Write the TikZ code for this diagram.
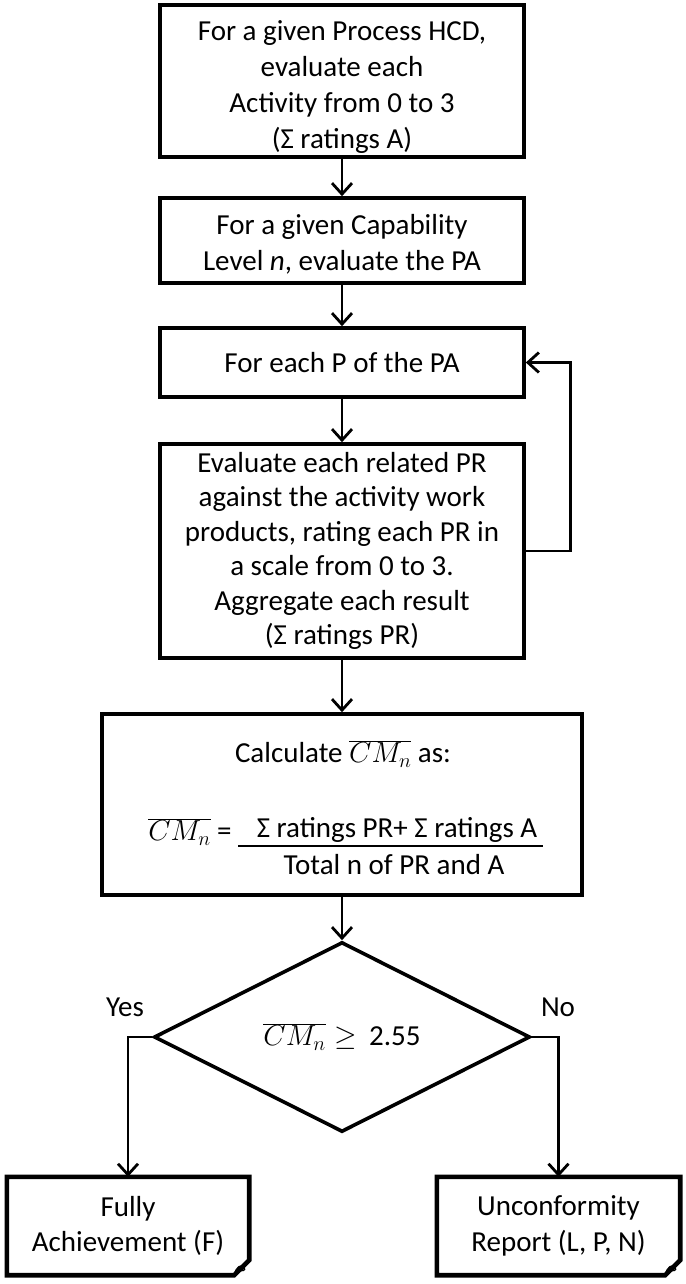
\RequirePackage{fix-cm}
\documentclass[tikz,border=0pt]{standalone}
\usepackage{fontspec}
\setmainfont{Carlito}
\usetikzlibrary{shapes.geometric,arrows.meta,calc}
\begin{document}
\begin{tikzpicture}[x=1pt,y=-1pt,
  txt/.style={font=\fontsize{29}{35.5}\selectfont, align=center, inner sep=0pt},
  box/.style={txt, draw, line width=3.6pt, minimum width=364pt},
  conn/.style={line width=2.8pt, -{Straight Barb[length=11pt,width=20pt,line width=2.8pt]}},
  docline/.style={line width=4.6pt, line join=miter},
  decision/.style={txt, draw, diamond, line width=3.6pt, minimum width=376pt, minimum height=190pt}
]
\useasboundingbox (0,0) rectangle (685,1284);

\node[box, minimum height=152pt, font=\fontsize{29}{36}\selectfont] (b1) at (342,81)
  {\rule{0pt}{32pt}For a given Process HCD,\\ evaluate each\\ Activity from 0 to 3\\ (Σ ratings A)};
\node[box, minimum height=85pt] (b2) at (342,240.5)
  {\rule{0pt}{28pt}For a given Capability\\ Level \textit{n}, evaluate the PA};
\node[box, minimum height=69pt] (b3) at (342,362.5)
  {For each P of the PA};
\node[box, minimum height=214pt, font=\fontsize{29}{34.5}\selectfont] (b4) at (342,551)
  {Evaluate each related PR\\ against the activity work\\ products, rating each PR in\\ a scale from 0 to 3.\\ Aggregate each result\\ (Σ ratings PR)};
\node[box, minimum width=480pt, minimum height=181pt] (b5) at (342,804.5) {};
\node[txt] (calc) at (343,754) {Calculate $\overline{CM_n}$ as:};
\node[txt] (lhs) at (190,832) {$\overline{CM_n}$ =};
\node[txt] (num) at (397,830) {Σ ratings PR+ Σ ratings A};
\node[txt] (den) at (394,865) {Total n of PR and A};
\coordinate (fracL) at (238,846);
\coordinate (fracR) at (543,846);
\draw[line width=2pt] (fracL) -- (fracR);

\node[decision] (dec) at (342,1037) {$\overline{CM_n}$\hspace{9pt}$\geq$\hspace{12pt}2.55};

\node[txt, minimum width=242pt, minimum height=98pt] (f) at (128,1226) {Fully\\ Achievement (F)};
\node[txt, minimum width=243pt, minimum height=98pt] (u) at (558.5,1226) {Unconformity\\ Report (L, P, N)};

\foreach \n in {f,u}{
  \draw[docline] (\n.north west) -- (\n.north east) -- ($(\n.south east)+(0,-15)$)
     -- ($(\n.south east)+(-15,0)$) -- (\n.south west) -- cycle;
  \draw[line width=1.4pt] ($(\n.south east)+(-15,0)$) .. controls ($(\n.south east)+(-13,-9)$) and ($(\n.south east)+(-8,-11)$) .. ($(\n.south east)+(-5,-8)$)
     .. controls ($(\n.south east)+(-3,-5)$) and ($(\n.south east)+(-8,-3)$) .. ($(\n.south east)+(-9,-6)$);
}

\node[txt] (yes) at (125,1007) {Yes};
\node[txt] (no) at (558,1007) {No};

\draw[conn] (b1) -- (b2);
\draw[conn] (b2) -- (b3);
\draw[conn] (b3) -- (b4);
\draw[conn] (b4) -- (b5);
\draw[conn] (b5) -- (dec);
\draw[conn] (b4.east) -- ++(45,0) |- (b3.east);
\draw[conn] (dec.west) -| (f.north);
\draw[conn] (dec.east) -| (u.north);
\end{tikzpicture}
\end{document}
